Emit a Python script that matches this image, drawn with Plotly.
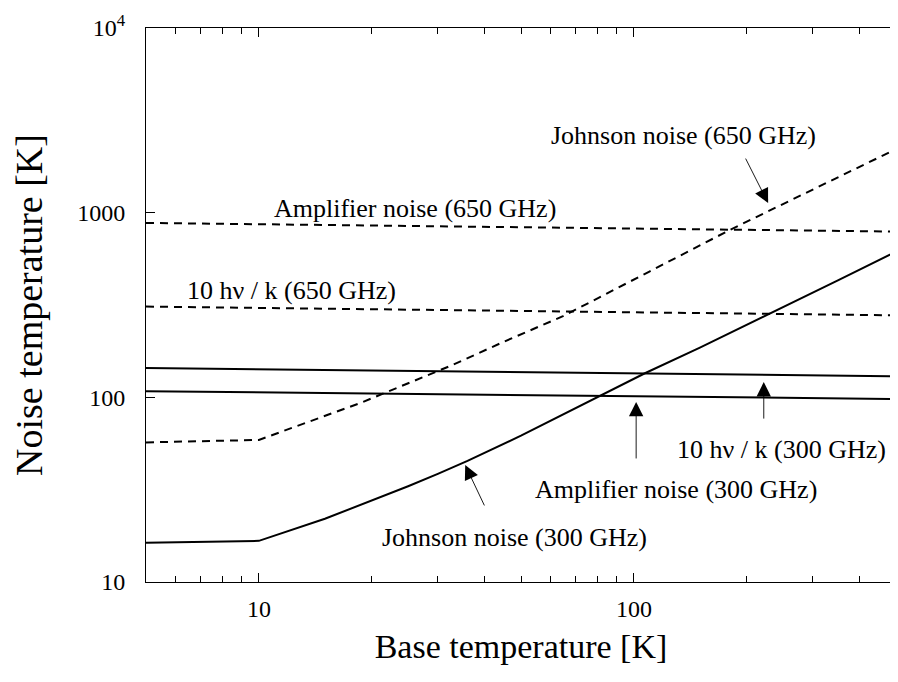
import plotly.graph_objects as go
import math

# ---- data ----
base_johnson_300 = [5, 10, 15, 20, 25, 30, 36, 50, 81, 107, 150, 231, 350, 500]
johnson_300 = [16.3, 16.7, 22, 27.5, 33, 38.5, 45.3, 62, 101, 135, 186, 284, 430, 615]

base_johnson_650 = [5, 10, 18.6, 32.4, 45, 64.7, 110, 180, 300, 500]
johnson_650 = [57, 58.8, 93, 148, 200, 275, 480, 805, 1334, 2208]

base_flat = [5, 500]
amp_650 = [880, 790]
hvk_650 = [310, 278]
hvk_300 = [144, 130]
amp_300 = [108, 98]

x_tick_vals = [10, 100]
x_tick_text = ["10", "100"]
x_minor_vals = [6, 7, 8, 9, 20, 30, 40, 50, 60, 70, 80, 90, 200, 300, 400]
y_tick_vals = [10, 100, 1000, 10000]
y_tick_text = ["10", "100", "1000", "10<sup>4</sup>"]

FONT = "Liberation Serif"

fig = go.Figure()

solid = dict(color="black", width=2)
dashed = dict(color="black", width=2, dash="8px,6px")

fig.add_trace(go.Scatter(x=base_johnson_300, y=johnson_300, mode="lines", line=solid))
fig.add_trace(go.Scatter(x=base_johnson_650, y=johnson_650, mode="lines", line=dashed))
fig.add_trace(go.Scatter(x=base_flat, y=amp_650, mode="lines", line=dashed))
fig.add_trace(go.Scatter(x=base_flat, y=hvk_650, mode="lines", line=dashed))
fig.add_trace(go.Scatter(x=base_flat, y=hvk_300, mode="lines", line=solid))
fig.add_trace(go.Scatter(x=base_flat, y=amp_300, mode="lines", line=solid))

L = math.log10
ann_font = dict(family=FONT, size=26, color="black")

texts = [
    ("Johnson noise (650 GHz)", 135.3, 2630),
    ("Amplifier noise (650 GHz)", 26.1, 1059),
    ("10 hν / k (650 GHz)", 12.2, 377),
    ("10 hν / k (300 GHz)", 248, 51.9),
    ("Amplifier noise (300 GHz)", 129.5, 31.5),
    ("Johnson noise (300 GHz)", 47.9, 17.5),
]
for t, x, y in texts:
    fig.add_annotation(x=L(x), y=L(y), xref="x", yref="y", text=t, showarrow=False,
                       font=ann_font, xanchor="center", yanchor="middle")

arrows = [
    ((228, 1127), (197.7, 2000)),
    ((222, 121), (222, 75.3)),
    ((101.4, 94.4), (101.4, 45.8)),
    ((35.5, 43), (40.1, 25.5)),
]
for (tx, ty), (sx, sy) in arrows:
    fig.add_annotation(x=L(tx), y=L(ty), ax=L(sx), ay=L(sy), xref="x", yref="y",
                       axref="x", ayref="y", text="", showarrow=True,
                       arrowhead=2, arrowsize=3.2, arrowwidth=0.9, arrowcolor="black")

fig.update_layout(
    width=890, height=674,
    margin=dict(l=138, r=2, t=20, b=100),
    paper_bgcolor="white", plot_bgcolor="white",
    showlegend=False,
    font=dict(family=FONT, color="black"),
)
fig.update_xaxes(
    type="log", range=[L(5), L(500)], automargin=False,
    tickvals=x_tick_vals, ticktext=x_tick_text,
    ticks="inside", ticklen=9, tickwidth=1, tickcolor="black",
    minor=dict(tickvals=x_minor_vals, ticks="inside", ticklen=6, tickwidth=1, tickcolor="black"),
    showline=True, linecolor="black", linewidth=1, mirror="ticks",
    showgrid=False, zeroline=False,
    tickfont=dict(family=FONT, size=24),
    ticklabelstandoff=5,
    title=dict(text="Base temperature [K]", font=dict(family=FONT, size=34), standoff=13),
)
fig.update_yaxes(
    type="log", range=[1, 4], automargin=False,
    tickvals=y_tick_vals, ticktext=y_tick_text,
    ticks="inside", ticklen=9, tickwidth=1, tickcolor="black",
    showline=True, linecolor="black", linewidth=1, mirror=False,
    showgrid=False, zeroline=False,
    tickfont=dict(family=FONT, size=24),
    ticklabelstandoff=15,
    title=dict(text="Noise temperature [K]", font=dict(family=FONT, size=38), standoff=23),
)

fig.write_html("out.html")
